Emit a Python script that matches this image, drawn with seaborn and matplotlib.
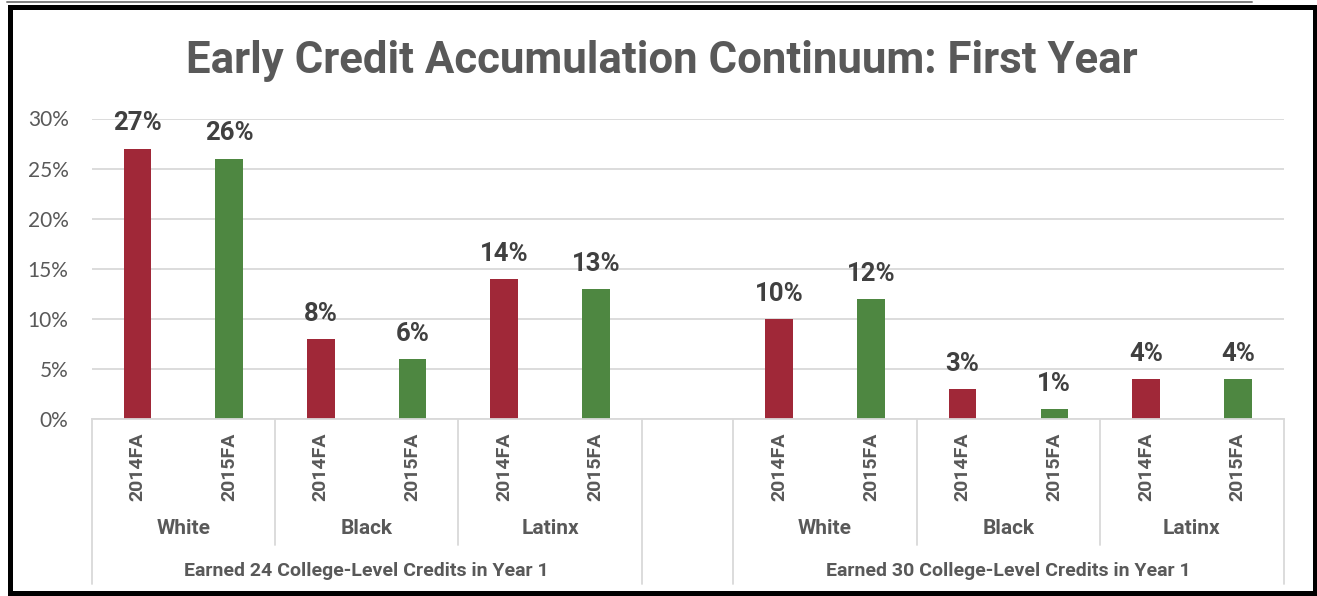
import numpy as np
import pandas as pd
import matplotlib
matplotlib.use("Agg")
import matplotlib.pyplot as plt
import seaborn as sns
from matplotlib.transforms import blended_transform_factory
from matplotlib.patches import Rectangle
from matplotlib.lines import Line2D

# ---------------- data ----------------
title = "Early Credit Accumulation Continuum: First Year"
groups = ["Earned 24 College-Level Credits in Year 1",
          "Earned 30 College-Level Credits in Year 1"]
races = ["White", "Black", "Latinx"]
years = ["2014FA", "2015FA"]
credits24 = [27, 26, 8, 6, 14, 13]   # White 14/15, Black 14/15, Latinx 14/15
credits30 = [10, 12, 3, 1, 4, 4]
y_ticks = [0, 5, 10, 15, 20, 25, 30]

# ---------------- style ----------------
RED = "#A02838"
GREEN = "#4E8741"
GRAY = "#595959"
DARK = "#404040"
GRID = "#D9D9D9"
BOLD_FONT = ["Roboto", "DejaVu Sans"]

sns.set_theme(style="white")
plt.rcParams['font.family'] = ['Lato', 'DejaVu Sans']

W, H = 1317, 596

rows = []
order = []
group_starts = []
for gi, (g, vals) in enumerate(zip(groups, [credits24, credits30])):
    if gi > 0:
        order.append("gap")
    group_starts.append(len(order))
    k = 0
    for r in races:
        for y in years:
            key = f"{g}|{r}|{y}"
            order.append(key)
            rows.append(dict(slot=key, group=g, race=r, year=y, value=vals[k] / 100))
            k += 1
df = pd.DataFrame(rows)

fig = plt.figure(figsize=(W / 100, H / 100), dpi=100)
ax = fig.add_axes([91.5 / W, (H - 419) / H, (1283.6 - 91.5) / W, 300.5 / H])

sns.barplot(data=df, x="slot", y="value", hue="year", order=order, hue_order=years,
            palette=[RED, GREEN], width=0.3, dodge=False, legend=False,
            saturation=1, linewidth=0, ax=ax)

for c in ax.containers:
    ax.bar_label(c, fmt=lambda v: f"{v * 100:.0f}%", padding=9.5,
                 fontsize=18.5, fontweight="bold", color=DARK, family=BOLD_FONT)

ax.set_ylim(0, 0.30)
ax.set_yticks(np.array(y_ticks) / 100)
ax.set_yticklabels([f"{t}%" for t in y_ticks])
ax.tick_params(axis="y", length=0, pad=16.5, labelsize=15, labelcolor=GRAY)

ax.set_xticks(range(len(order)))
ax.set_xticklabels([("" if s == "gap" else s.split("|")[2]) for s in order],
                   rotation=90, fontweight="bold", fontsize=14, color=GRAY,
                   family=BOLD_FONT)
ax.tick_params(axis="x", length=0, pad=9.5)
ax.set_xlim(-0.5, len(order) - 0.5)

ax.set_xlabel("")
ax.set_ylabel("")
ax.yaxis.grid(True, color=GRID, lw=1.3)
ax.xaxis.grid(False)
ax.set_axisbelow(True)
for s in ["top", "left", "right"]:
    ax.spines[s].set_visible(False)
ax.spines["bottom"].set_color(GRID)
ax.spines["bottom"].set_linewidth(1.3)

# multi-level category axis
trans = blended_transform_factory(ax.transData, fig.transFigure)
y_axis = 1 - 419 / H
y_short = 1 - 545 / H
y_tall = 1 - 584 / H
for gi, (g, s0) in enumerate(zip(groups, group_starts)):
    n = len(races) * len(years)
    for xb in (s0 - 0.5, s0 + n - 0.5):
        ax.add_line(Line2D([xb, xb], [y_axis, y_tall], transform=trans,
                           color=GRID, lw=1.3, clip_on=False))
    for j in range(1, len(races)):
        xb = s0 + 2 * j - 0.5
        ax.add_line(Line2D([xb, xb], [y_axis, y_short], transform=trans,
                           color=GRID, lw=1.3, clip_on=False))
    for j, r in enumerate(races):
        ax.text(s0 + 2 * j + 0.5, 1 - 528 / H, r, transform=trans, ha="center",
                va="center", fontsize=15, fontweight="bold", color=GRAY,
                family=BOLD_FONT)
    ax.text(s0 + (n - 1) / 2, 1 - 571 / H, g, transform=trans, ha="center",
            va="center", fontsize=14, fontweight="bold", color=GRAY,
            family=BOLD_FONT)

# title
fig.text(662 / W, 1 - 73 / H, title, ha="center", va="baseline", fontsize=31.5,
         fontweight="bold", color=GRAY, family=BOLD_FONT)

# frame
fig.add_artist(Rectangle((9.5 / W, 1 - 592.5 / H), (1314.5 - 9.5) / W, (592.5 - 6.5) / H,
                         transform=fig.transFigure, fill=False, ec="black", lw=3.6,
                         clip_on=False))
fig.add_artist(Line2D([7 / W, 1252 / W], [1 - 1.5 / H] * 2, transform=fig.transFigure,
                      color="#808080", lw=1.4))

fig.savefig("out.png", dpi=100)
